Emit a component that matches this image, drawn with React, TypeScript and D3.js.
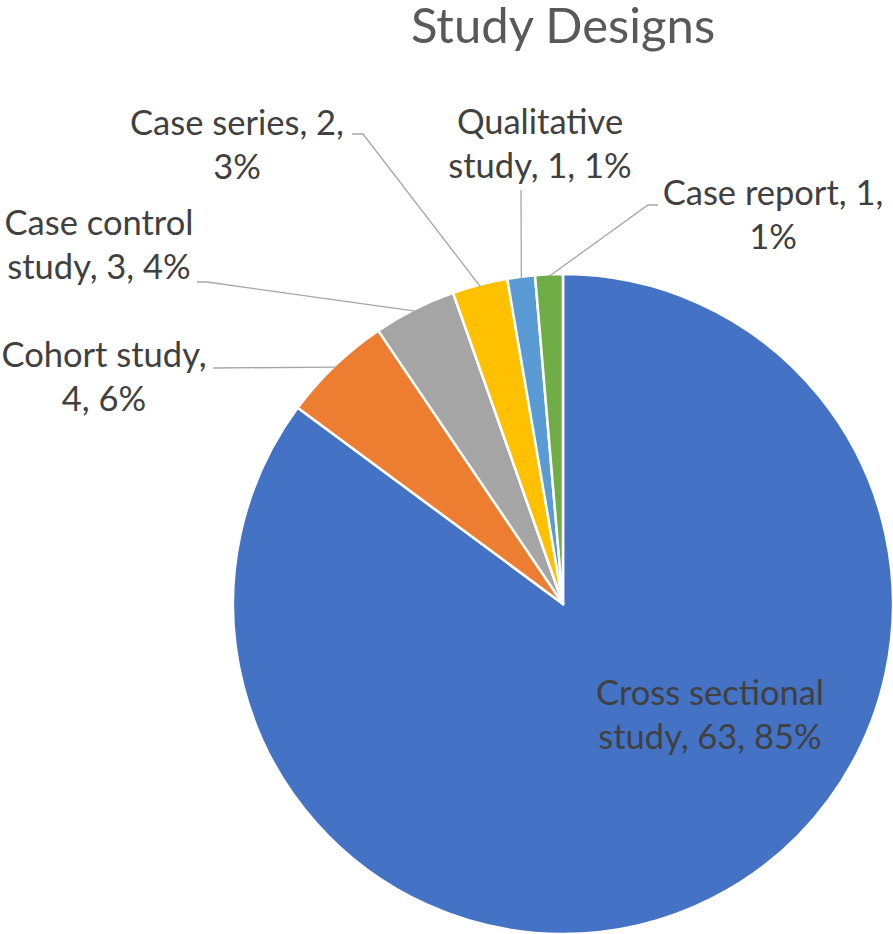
import React, { useEffect } from 'react';
import * as d3 from 'd3';

// ---- data ----
const categories = [
  'Cross sectional study',
  'Cohort study',
  'Case control study',
  'Case series',
  'Qualitative study',
  'Case report',
];
const counts = [63, 4, 3, 2, 1, 1];
const percentLabels = ['85%', '6%', '4%', '3%', '1%', '1%'];
const labelLines = [
  ['Cross sectional', 'study, 63, 85%'],
  ['Cohort study,', '4, 6%'],
  ['Case control', 'study, 3, 4%'],
  ['Case series, 2,', '3%'],
  ['Qualitative', 'study, 1, 1%'],
  ['Case report, 1,', '1%'],
];
const colors = ['#4472C4', '#ED7D31', '#A5A5A5', '#FFC000', '#5B9BD5', '#70AD47'];
const title = 'Study Designs';

// ---- layout ----
const W = 893;
const H = 934;
const cx = 563;
const cy = 604;
const R = 330;
const FONT = 'Lato, "Open Sans", sans-serif';
const LABEL_SIZE = 34.5;
const LINE_H = 44;
// label anchor: [centerX, firstBaselineY]
const labelPos: [number, number][] = [
  [710, 705],
  [104, 367],
  [99, 235],
  [237, 135],
  [540, 134],
  [773, 205],
];
// leader line points after the slice edge (null = no leader)
const leaderPts: ([number, number][] | null)[] = [
  null,
  [[213, 368]],
  [[207, 282], [197, 282]],
  [[363, 134], [352, 134]],
  [[521, 190]],
  [[648, 205], [658, 205]],
];

export default function App() {
  useEffect(() => {
    document.body.style.margin = '0';
  }, []);

  const pie = d3
    .pie<number>()
    .sort(null)
    .value((d) => d)
    .startAngle(0)
    .endAngle(2 * Math.PI);
  const arcs = pie(counts);
  const arc = d3.arc<d3.PieArcDatum<number>>().innerRadius(0).outerRadius(R);
  const edge = d3.arc<d3.PieArcDatum<number>>().innerRadius(R - 2).outerRadius(R - 2);
  const line = d3.line();

  return (
    <svg width={W} height={H} style={{ position: 'absolute', left: 0, top: 0, background: '#fff' }}>
      <text
        x={cx}
        y={43}
        textAnchor="middle"
        fontFamily={FONT}
        fontSize={49}
        fill="#595959"
      >
        {title}
      </text>
      <g transform={`translate(${cx},${cy})`}>
        {arcs.map((a, i) => (
          <path key={categories[i]} d={arc(a) || ''} fill={colors[i]} stroke="#fff" strokeWidth={2.5} strokeLinejoin="round" />
        ))}
      </g>
      {arcs.map((a, i) => {
        const pts = leaderPts[i];
        if (!pts) return null;
        const [ex, ey] = edge.centroid(a);
        const all: [number, number][] = [[cx + ex, cy + ey], ...pts];
        return (
          <path key={'l' + i} d={line(all) || ''} fill="none" stroke="#A6A6A6" strokeWidth={1.3} />
        );
      })}
      {labelLines.map((lines, i) => (
        <text
          key={'t' + i}
          textAnchor="middle"
          fontFamily={FONT}
          fontSize={LABEL_SIZE}
          fill="#404040"
          data-pct={percentLabels[i]}
        >
          {lines.map((ln, j) => (
            <tspan key={j} x={labelPos[i][0]} y={labelPos[i][1] + j * LINE_H}>
              {ln}
            </tspan>
          ))}
        </text>
      ))}
    </svg>
  );
}
